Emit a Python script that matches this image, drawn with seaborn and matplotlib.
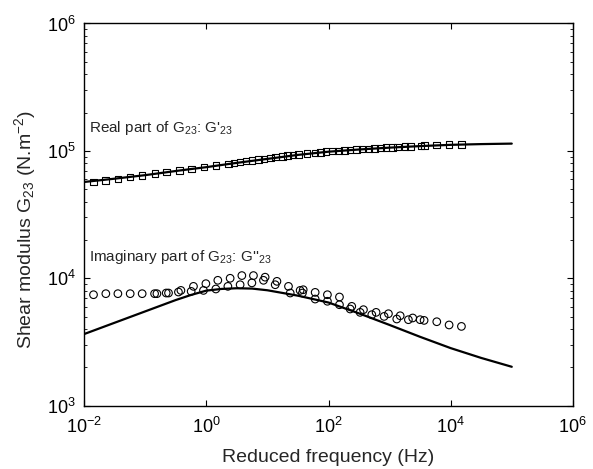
import matplotlib
matplotlib.use('Agg')
import matplotlib.pyplot as plt
import matplotlib.ticker as mticker
import numpy as np
import pandas as pd
import seaborn as sns

# measured storage modulus G'23 (squares)
real_freq = [0.0141, 0.0224, 0.0355, 0.0562, 0.0891, 0.145, 0.224, 0.363, 0.575, 0.912,
             1.45, 2.29, 3.55, 5.62, 8.71, 13.5, 21.4, 32.4, 44.7, 60.3, 91.2, 145, 224,
             355, 562, 871, 1350, 2190, 3240, 3720, 5890, 9330, 15100,
             2.82, 4.47, 7.08, 11.2, 17.8, 26.3, 74.1, 117, 182, 288, 457, 708, 1120, 1780]
real_mod = [5.71e4, 5.85e4, 6.03e4, 6.21e4, 6.40e4, 6.67e4, 6.84e4, 7.04e4, 7.22e4, 7.44e4,
            7.67e4, 7.91e4, 8.20e4, 8.40e4, 8.66e4, 8.92e4, 9.19e4, 9.36e4, 9.53e4, 9.65e4,
            9.87e4, 1.0e5, 1.02e5, 1.03e5, 1.04e5, 1.06e5, 1.07e5, 1.087e5, 1.09e5, 1.10e5,
            1.11e5, 1.12e5, 1.12e5,
            8.05e4, 8.3e4, 8.55e4, 8.8e4, 9.05e4, 9.3e4, 9.75e4, 9.95e4, 1.01e5, 1.025e5,
            1.035e5, 1.05e5, 1.065e5, 1.08e5]

# measured loss modulus G''23 (circles)
imag_freq = [0.0142, 0.0226, 0.0356, 0.0566, 0.0889, 0.142, 0.155, 0.220, 0.240, 0.349,
             0.383, 0.564, 0.615, 0.897, 0.982, 1.43, 1.54, 2.25, 2.45, 3.57, 3.81, 5.56,
             5.9, 8.61, 9.16, 13.4, 14.3, 22.1, 23.6, 34.3, 37.4, 38.5, 60.4, 60.4, 95.9,
             95.9, 151, 151, 240, 226, 373, 329, 601, 511, 957, 813, 1490, 1310, 2390,
             2030, 3160, 3670, 5920, 9420, 15000]
imag_mod = [7.43e3, 7.57e3, 7.57e3, 7.57e3, 7.57e3, 7.57e3, 7.57e3, 7.66e3, 7.66e3, 7.8e3,
            8.03e3, 7.89e3, 8.64e3, 8.03e3, 9.07e3, 8.24e3, 9.64e3, 8.64e3, 1.0e4, 8.9e3,
            1.05e4, 9.2e3, 1.05e4, 9.64e3, 1.02e4, 8.9e3, 9.46e3, 8.64e3, 7.66e3, 8.03e3,
            7.66e3, 8.13e3, 7.75e3, 6.87e3, 7.43e3, 6.6e3, 7.13e3, 6.2e3, 6.02e3, 5.74e3,
            5.67e3, 5.4e3, 5.4e3, 5.18e3, 5.27e3, 5.02e3, 5.08e3, 4.79e3, 4.88e3, 4.73e3,
            4.73e3, 4.67e3, 4.56e3, 4.3e3, 4.19e3]

# model curves
model_freq = [0.01, 0.0316, 0.1, 0.316, 0.562, 1, 1.78, 3.16, 5.62, 10, 31.6, 100,
              316, 1000, 3160, 1e4, 3.16e4, 1e5]
model_real = [5.7e4, 6.05e4, 6.45e4, 6.95e4, 7.2e4, 7.45e4, 7.75e4, 8.05e4, 8.35e4, 8.65e4,
              9.3e4, 9.85e4, 1.025e5, 1.06e5, 1.09e5, 1.115e5, 1.13e5, 1.14e5]
model_imag = [3.65e3, 4.48e3, 5.5e3, 6.75e3, 7.4e3, 8.0e3, 8.25e3, 8.35e3, 8.3e3, 8.05e3,
              7.3e3, 6.45e3, 5.3e3, 4.3e3, 3.47e3, 2.83e3, 2.37e3, 2.02e3]

sns.set_theme(style='ticks')
plt.rcParams['font.family'] = ['Liberation Sans', 'DejaVu Sans']
plt.rcParams['mathtext.fontset'] = 'custom'
plt.rcParams['mathtext.rm'] = 'Liberation Sans'
plt.rcParams['mathtext.it'] = 'Liberation Sans:italic'
plt.rcParams['mathtext.bf'] = 'Liberation Sans:bold'

fig, ax = plt.subplots(figsize=(5.93, 4.69), dpi=100)
fig.subplots_adjust(left=0.142, right=0.966, bottom=0.135, top=0.950)

model = pd.DataFrame({'f': model_freq, 'real': model_real, 'imag': model_imag})
sns.lineplot(data=model, x='f', y='real', color='black', linewidth=1.6, ax=ax,
             estimator=None, sort=False)
sns.lineplot(data=model, x='f', y='imag', color='black', linewidth=1.6, ax=ax,
             estimator=None, sort=False)

sns.scatterplot(x=real_freq, y=real_mod, marker='s', s=22, facecolors='none',
                edgecolor='black', linewidth=0.8, ax=ax, zorder=3)
sns.scatterplot(x=imag_freq, y=imag_mod, marker='o', s=30, facecolors='none',
                edgecolor='black', linewidth=0.8, ax=ax, zorder=3)

ax.set_xscale('log')
ax.set_yscale('log')
ax.set_xlim(1e-2, 1e6)
ax.set_ylim(1e3, 1e6)
ax.set_xticks([1e-2, 1e0, 1e2, 1e4, 1e6])
ax.xaxis.set_minor_locator(mticker.NullLocator())
ax.yaxis.set_major_locator(mticker.LogLocator(base=10))
ax.yaxis.set_minor_locator(mticker.LogLocator(base=10, subs=np.arange(2, 10)))
ax.yaxis.set_minor_formatter(mticker.NullFormatter())

ax.tick_params(which='both', direction='in', top=True, right=True, colors='black',
               labelsize=13)
ax.tick_params(which='major', length=4, width=0.8)
ax.tick_params(which='minor', length=2.5, width=0.6)
ax.tick_params(axis='x', which='major', pad=8)
ax.tick_params(axis='y', which='major', pad=6)
for s in ax.spines.values():
    s.set_color('black')
    s.set_linewidth(1.0)

ax.set_xlabel('Reduced frequency (Hz)', fontsize=14, labelpad=9)
ax.set_ylabel('Shear modulus G$_{23}$ (N.m$^{-2}$)', fontsize=14)
ax.yaxis.set_label_coords(-0.095, 0.46)

ax.text(0.012, 1.52e5, "Real part of G$_{23}$: G'$_{23}$", fontsize=11, va='center')
ax.text(0.012, 1.48e4, "Imaginary part of G$_{23}$: G''$_{23}$", fontsize=11, va='center')

fig.savefig('out.png', dpi=100)
